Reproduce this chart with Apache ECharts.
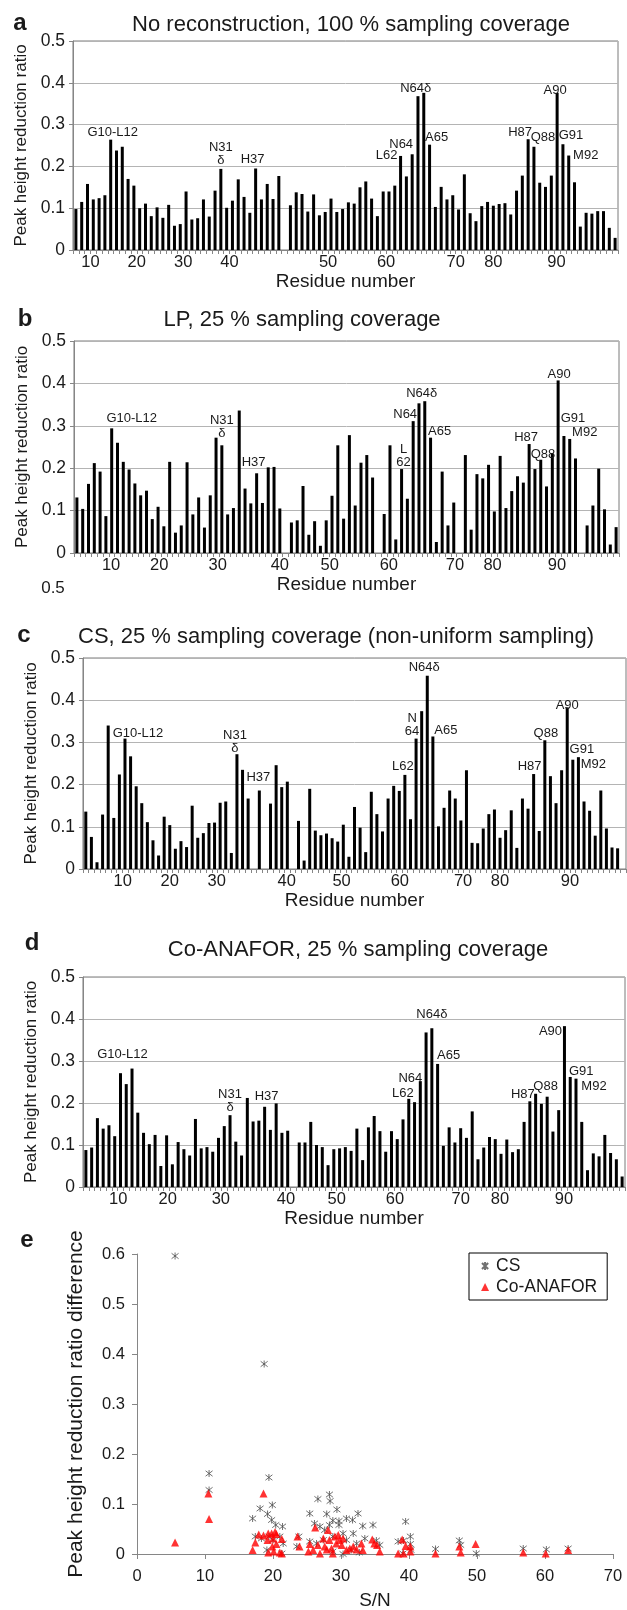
<!DOCTYPE html>
<html><head><meta charset="utf-8">
<script src="https://cdn.jsdelivr.net/npm/echarts@6/dist/echarts.min.js"></script>
<style>html,body{margin:0;padding:0;background:#fff}#c{width:627px;height:1610px}</style>
</head><body><div id="c"></div>
<script>
// ---------- DATA ----------
const tickText = ['10','20','30','40','50','60','70','80','90'];
const tickPosA = [3, 11, 19, 27, 44, 54, 66, 72.5, 83.4];
const tickPosB = [6.4, 14.7, 24.8, 35.5, 44.1, 54.3, 65.7, 72.2, 83.3];
const tickPosC = [7.1, 15.5, 23.9, 36.4, 46.2, 56.6, 67.9, 74.5, 87];
const tickPosD = [6.1, 14.7, 23.9, 35.2, 44.0, 54.1, 65.5, 72.3, 83.4];

const valuesA = [0.098,0.115,0.158,0.121,0.124,0.131,0.264,0.238,0.247,0.170,0.154,0.100,0.111,0.081,0.102,0.077,0.108,0.058,0.062,0.140,0.073,0.076,0.121,0.080,0.142,0.194,0.101,0.118,0.169,0.127,0.089,0.195,0.121,0.158,0.122,0.177,null,0.107,0.138,0.134,0.092,0.133,0.083,0.091,0.123,0.091,0.098,0.114,0.111,0.150,0.164,0.123,0.081,0.140,0.140,0.154,0.225,0.176,0.229,0.368,0.376,0.252,0.103,0.151,0.121,0.131,0.097,0.181,0.088,0.069,0.105,0.115,0.106,0.110,0.112,0.085,0.142,0.178,0.265,0.247,0.161,0.151,0.178,0.376,0.253,0.226,0.162,0.056,0.089,0.087,0.093,0.093,0.053,0.029];
const valuesB = [0.131,0.104,0.163,0.212,0.192,0.087,0.294,0.260,0.215,0.197,0.164,0.136,0.147,0.080,0.109,0.063,0.215,0.048,0.065,0.214,0.091,0.131,0.060,0.136,0.272,0.254,0.091,0.106,0.336,0.152,0.117,0.188,0.118,0.202,0.203,0.105,null,0.072,0.077,0.158,0.043,0.075,0.017,0.077,0.135,0.254,0.081,0.278,0.112,0.213,0.231,0.178,null,0.092,0.254,0.032,0.198,0.128,0.311,0.353,0.358,0.272,0.026,0.192,0.065,0.119,null,0.231,0.055,0.186,0.176,0.208,0.098,0.229,0.106,0.146,0.181,0.166,0.257,0.198,0.220,0.157,0.235,0.407,0.276,0.269,0.223,null,0.065,0.112,0.199,0.103,0.020,0.061];
const valuesC = [0.136,0.076,0.016,0.129,0.340,0.121,0.224,0.309,0.267,0.196,0.156,0.111,0.068,0.032,0.124,0.104,0.048,0.066,0.052,0.150,0.074,0.085,0.109,0.110,0.157,0.160,0.038,0.272,0.235,0.167,null,0.186,null,0.155,0.246,0.194,0.207,null,0.114,0.020,0.190,0.091,0.080,0.084,0.073,0.065,0.105,0.029,0.147,0.098,0.040,0.183,0.130,0.089,0.167,0.197,0.185,0.223,0.118,0.309,0.374,0.458,0.314,0.101,0.145,0.186,0.167,0.115,0.234,0.062,0.061,0.096,0.130,0.141,0.074,0.092,0.139,0.050,0.167,0.143,0.225,0.090,0.305,0.220,0.156,0.234,0.383,0.259,0.265,0.160,0.138,0.079,0.186,0.096,0.051,0.049,null];
const valuesD = [0.088,0.094,0.164,0.139,0.147,0.121,0.271,0.245,0.282,0.177,0.129,0.102,0.124,0.050,0.123,0.054,0.107,0.090,0.075,0.162,0.092,0.095,0.084,0.117,0.145,0.171,0.108,0.075,0.212,0.156,0.158,0.191,0.136,0.199,0.129,0.134,null,0.106,0.106,0.155,0.100,0.095,0.052,0.090,0.092,0.095,0.086,0.139,0.064,0.142,0.169,0.133,0.084,0.133,0.114,0.161,0.210,0.202,0.252,0.368,0.378,0.293,0.098,0.142,0.106,0.140,0.117,0.180,0.066,0.094,0.119,0.114,0.079,0.113,0.083,0.090,0.155,0.204,0.222,0.198,0.215,0.132,0.183,0.383,0.262,0.258,0.155,0.040,0.080,0.073,0.124,0.081,0.066,0.025];

const csPoints = [[5.6,0.596],[18.7,0.38],[10.6,0.161],[10.6,0.128],[19.4,0.153],[17.0,0.071],[18.1,0.091],[19.9,0.098],[19.2,0.080],[19.8,0.068],[20.4,0.058],[21.4,0.055],[17.4,0.035],[18.3,0.031],[19.4,0.035],[20.0,0.028],[21.0,0.035],[21.5,0.021],[21.3,0.001],[19.1,0.008],[23.8,0.035],[23.5,0.015],[25.4,0.081],[26.6,0.110],[28.3,0.119],[28.4,0.106],[27.9,0.080],[29.4,0.089],[28.8,0.067],[29.7,0.066],[30.8,0.071],[31.7,0.068],[32.5,0.081],[33.2,0.056],[34.7,0.058],[26.1,0.061],[26.9,0.055],[27.6,0.048],[28.3,0.058],[29.7,0.058],[30.3,0.041],[31.8,0.041],[25.4,0.025],[26.4,0.021],[27.4,0.028],[28.8,0.035],[30.8,0.028],[32.3,0.021],[33.5,0.031],[35.2,0.027],[35.7,0.018],[30.3,0.0],[28.8,0.005],[31.5,0.008],[32.7,0.003],[38.4,0.025],[39.5,0.065],[40.2,0.035],[40.2,0.020],[39.2,0.027],[40.3,0.008],[39.1,0.001],[43.9,0.010],[47.4,0.027],[47.6,0.018],[49.9,0.001],[56.8,0.011],[60.2,0.009],[63.4,0.011]];
const coPoints = [[5.6,0.023],[10.5,0.121],[10.6,0.070],[18.6,0.121],[17.0,0.008],[17.4,0.023],[17.9,0.039],[18.6,0.037],[19.3,0.041],[19.8,0.041],[20.3,0.044],[20.5,0.040],[19.2,0.028],[20.0,0.031],[19.3,0.003],[19.9,0.015],[20.1,0.005],[20.5,0.020],[21.0,0.003],[21.3,0.030],[21.3,0.001],[23.6,0.035],[23.9,0.015],[25.2,0.005],[25.4,0.020],[25.9,0.008],[26.2,0.053],[26.6,0.018],[26.9,0.001],[27.4,0.031],[27.6,0.015],[28.1,0.048],[28.3,0.028],[28.6,0.011],[29.1,0.035],[29.3,0.021],[29.6,0.038],[29.8,0.028],[30.1,0.018],[30.3,0.031],[30.8,0.008],[31.3,0.011],[31.8,0.015],[32.3,0.009],[33.0,0.021],[33.2,0.008],[34.6,0.029],[34.9,0.021],[35.3,0.018],[35.7,0.005],[38.4,0.001],[39.0,0.029],[39.5,0.016],[40.2,0.005],[39.2,0.001],[40.2,0.015],[43.9,0.001],[47.4,0.015],[47.6,0.003],[49.8,0.020],[56.8,0.003],[60.1,0.001],[63.4,0.008],[27.9,0.009],[28.8,0.001]];

// annotation texts (bar index, text) and their pixel offsets from the bar top
const annotA = [[6,'G10-L12',2,-7],[25,'N31\nδ',0,-15],[31,'H37',-3,-9],[56,'L62',-14,-1],[58,'N64',-11,-10],[60,'N64δ',-8,-4],[61,'A65',7,-7],[78,'H87',-8,-7],[79,'Q88',9,-9],[83,'A90',-2,-2],[84,'G91',8,-9],[85,'M92',17,0]];
const annotB = [[6,'G10-L12',20,-10],[25,'N31\nδ',0,-18],[31,'H37',-3,-11],[56,'L\n62',2,-13],[58,'N64',-8,-7],[60,'N64δ',-3,-8],[61,'A65',9,-6],[78,'H87',-3,-7],[79,'Q88',8,-15],[83,'A90',1,-6],[84,'G91',9,-18],[85,'M92',15,-7]];
const annotC = [[7,'G10-L12',13,-5],[27,'N31\nδ',-2,-12],[31,'H37',-1,-13],[57,'L62',-2,-8],[59,'N\n64',-4,-14],[61,'N64δ',-3,-8],[62,'A65',13,-6],[80,'H87',-4,-8],[82,'Q88',1,-7],[86,'A90',0,-2],[87,'G91',9,-10],[88,'M92',15,7]];
const annotD = [[6,'G10-L12',2,-19],[25,'N31\nδ',0,-14],[31,'H37',2,-10],[56,'L62',-6,-5],[58,'N64',-10,-3],[60,'N64δ',0,-14],[61,'A65',11,-9],[77,'H87',-7,-7],[78,'Q88',10,-7],[83,'A90',-14,5],[84,'G91',11,-6],[85,'M92',18,8]];

// ---------- CHART ----------
const FONT = '"Liberation Sans", Arial, Helvetica, sans-serif';
const TXT = '#1a1a1a';
const AX = '#868686';

const panels = [
  {vals: valuesA, ticks: tickPosA, ann: annotA, grid: {left: 73, top: 41, width: 545, height: 209}},
  {vals: valuesB, ticks: tickPosB, ann: annotB, grid: {left: 74, top: 341, width: 545, height: 212}},
  {vals: valuesC, ticks: tickPosC, ann: annotC, grid: {left: 83, top: 658, width: 543, height: 211}},
  {vals: valuesD, ticks: tickPosD, ann: annotD, grid: {left: 83, top: 977, width: 542, height: 210}}
];

const grids = [], xAxes = [], yAxes = [], series = [];
panels.forEach((p, k) => {
  const cats = p.vals.map((_, i) => String(i + 1));
  grids.push(Object.assign({show: true, borderColor: '#7a7a7a', borderWidth: 1, backgroundColor: 'transparent', outerBoundsMode: 'none', containLabel: false}, p.grid));
  xAxes.push({
    type: 'category', gridIndex: k, data: cats, boundaryGap: true,
    axisLine: {show: true, lineStyle: {color: AX, width: 1}},
    axisTick: {show: true, interval: 0, length: 4, lineStyle: {color: AX}},
    axisLabel: {show: false}, splitLine: {show: false}
  });
  const tk = p.ticks;
  xAxes.push({
    type: 'value', gridIndex: k, min: 0, max: p.vals.length, position: 'bottom',
    axisLine: {show: false}, axisTick: {show: false}, splitLine: {show: false},
    axisLabel: {show: true, customValues: tk, margin: 4, fontSize: 16.5, color: TXT, fontFamily: FONT,
      formatter: v => { const j = tk.findIndex(t => Math.abs(t - v) < 1e-6); return j >= 0 ? tickText[j] : ''; }},
    name: 'Residue number', nameLocation: 'middle', nameGap: 21,
    nameTextStyle: {fontSize: 19, color: TXT, fontFamily: FONT}
  });
  yAxes.push({
    type: 'value', gridIndex: k, min: 0, max: 0.5, interval: 0.1,
    axisLine: {show: true, lineStyle: {color: AX}},
    axisTick: {show: true, length: 4, lineStyle: {color: AX}},
    axisLabel: {fontSize: 17.5, color: TXT, margin: 8, fontFamily: FONT},
    splitLine: {show: true, lineStyle: {color: '#b4b4b4', width: 1}},
    name: 'Peak height reduction ratio', nameLocation: 'middle', nameGap: 42,
    nameTextStyle: {fontSize: 17, color: TXT, fontFamily: FONT}
  });
  series.push({
    type: 'bar', xAxisIndex: 2 * k, yAxisIndex: k, data: p.vals, barWidth: 3,
    itemStyle: {color: '#000'}, silent: true,
    markPoint: {
      symbol: 'rect', symbolSize: 1, itemStyle: {color: 'rgba(0,0,0,0)'}, silent: true,
      label: {show: true, position: 'inside', color: TXT, fontSize: 13, lineHeight: 13, fontFamily: FONT},
      data: p.ann.map(a => ({coord: [cats[a[0]], p.vals[a[0]]], value: 0,
        label: {formatter: a[1], offset: [a[2], a[3]]}}))
    }
  });
});

// panel e
grids.push({left: 137, top: 1254, width: 476, height: 300, show: false, outerBoundsMode: 'none', containLabel: false});
xAxes.push({
  type: 'value', gridIndex: 4, min: 0, max: 70, interval: 10,
  axisLine: {show: true, onZero: false, lineStyle: {color: AX}},
  axisTick: {show: true, length: 5, lineStyle: {color: AX}},
  axisLabel: {fontSize: 16.5, color: TXT, margin: 14, fontFamily: FONT},
  splitLine: {show: false},
  name: 'S/N', nameLocation: 'middle', nameGap: 37,
  nameTextStyle: {fontSize: 19, color: TXT, fontFamily: FONT}
});
yAxes.push({
  type: 'value', gridIndex: 4, min: 0, max: 0.6, interval: 0.1,
  axisLine: {show: true, lineStyle: {color: AX}},
  axisTick: {show: true, length: 5, lineStyle: {color: AX}},
  axisLabel: {fontSize: 16.5, color: TXT, margin: 12, fontFamily: FONT},
  splitLine: {show: false},
  name: 'Peak height reduction ratio difference', nameLocation: 'middle', nameGap: 50,
  nameTextStyle: {fontSize: 21, color: TXT, fontFamily: FONT}
});
const STAR = 'path://M0,0L10,10M10,0L0,10M5,-1.5L5,11.5';
series.push({
  name: 'CS', type: 'scatter', xAxisIndex: 8, yAxisIndex: 4, data: csPoints,
  symbol: STAR, symbolSize: 7,
  itemStyle: {color: 'rgba(0,0,0,0)', borderColor: '#4d4d4d', borderWidth: 1}, silent: true
});
series.push({
  name: 'Co-ANAFOR', type: 'scatter', xAxisIndex: 8, yAxisIndex: 4, data: coPoints,
  symbol: 'triangle', symbolSize: 8,
  itemStyle: {color: '#ff0000'}, silent: true
});

function txt(x, y, text, font, align) {
  return {type: 'text', x: x, y: y, silent: true,
    style: {text: text, font: font, fill: TXT, textAlign: align || 'center', textVerticalAlign: 'middle'}};
}
const TF = '22px ' + FONT;
const LF = 'bold 24px ' + FONT;
const graphics = [
  txt(351, 25, 'No reconstruction, 100 % sampling coverage', TF),
  txt(302, 320, 'LP, 25 % sampling coverage', TF),
  txt(336, 637, 'CS, 25 % sampling coverage (non-uniform sampling)', TF),
  txt(358, 950, 'Co-ANAFOR, 25 % sampling coverage', TF),
  txt(20, 23, 'a', LF), txt(25, 319, 'b', LF), txt(24, 635, 'c', LF),
  txt(32, 943, 'd', LF), txt(27, 1240, 'e', LF),
  txt(53, 588, '0.5', '17px ' + FONT)
];

const chart = echarts.init(document.getElementById('c'), null, {renderer: 'canvas'});
chart.setOption({
  animation: false,
  backgroundColor: '#fff',
  textStyle: {fontFamily: FONT},
  grid: grids, xAxis: xAxes, yAxis: yAxes, series: series,
  legend: {
    orient: 'vertical', left: 469, top: 1253, data: ['CS', 'Co-ANAFOR'],
    borderColor: '#000', borderWidth: 1, borderRadius: 0, padding: [4, 10, 4, 12],
    itemGap: 3, itemWidth: 8, itemHeight: 8,
    textStyle: {fontSize: 17.5, color: TXT, fontFamily: FONT, padding: [0, 0, 0, 2]}
  },
  graphic: graphics
});
</script></body></html>
